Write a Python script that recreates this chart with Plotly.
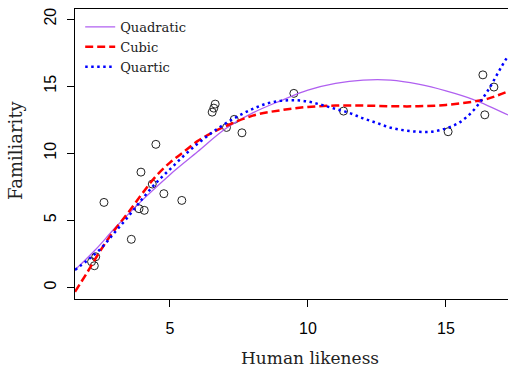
import plotly.graph_objects as go

# observed data points
obs_x = [2.16, 2.26, 2.31, 2.61, 3.60, 3.88, 3.95, 4.07, 4.36, 4.49, 4.78, 5.43,
         6.53, 6.59, 6.64, 7.05, 7.33, 7.61, 9.49, 11.29, 15.08, 16.34, 16.41, 16.74]
obs_y = [1.91, 1.61, 2.28, 6.33, 3.58, 5.86, 8.59, 5.74, 7.70, 10.66, 6.98, 6.48,
         13.06, 13.36, 13.66, 11.92, 12.52, 11.52, 14.46, 13.14, 11.60, 15.84, 12.86, 14.93]

# fitted curves
quad_x = [1.56, 2.3, 3.0, 4.0, 5.0, 6.0, 7.0, 8.0, 9.0, 10.0, 11.0, 12.0, 13.0, 14.0, 15.0, 16.0, 17.25]
quad_y = [1.3, 2.8, 4.4, 6.5, 8.4, 10.1, 11.8, 13.0, 13.9, 14.7, 15.2, 15.45, 15.45, 15.15, 14.65, 14.0, 12.85]

cub_x = [1.56, 2.0, 2.5, 3.0, 3.5, 4.0, 4.5, 5.0, 5.5, 6.0, 6.5, 7.0, 8.0, 9.0, 10.0, 11.0, 12.0, 13.0, 14.0, 15.0, 16.0, 16.5, 17.25]
cub_y = [-0.33, 1.1, 2.8, 4.3, 5.6, 7.0, 8.3, 9.3, 10.1, 10.9, 11.5, 12.0, 12.8, 13.2, 13.45, 13.55, 13.55, 13.5, 13.5, 13.6, 13.85, 14.05, 14.6]

quart_x = [1.56, 2.0, 2.5, 3.0, 3.5, 4.0, 4.5, 5.0, 5.5, 6.0, 6.5, 7.0, 7.5, 8.0, 8.5, 9.0, 9.5, 10.0, 10.5,
           11.0, 11.5, 12.0, 12.5, 13.0, 13.5, 14.0, 14.5, 15.0, 15.5, 16.0, 16.5, 17.0, 17.25]
quart_y = [1.3, 2.0, 2.9, 4.1, 5.3, 6.6, 7.8, 8.8, 9.8, 10.7, 11.5, 12.2, 12.8, 13.3, 13.7, 13.9, 13.95, 13.85, 13.6,
           13.3, 13.0, 12.6, 12.25, 11.9, 11.7, 11.6, 11.6, 11.85, 12.3, 13.2, 14.6, 16.4, 17.25]

x_ticks = [5, 10, 15]
y_ticks = [0, 5, 10, 15, 20]

fig = go.Figure()
fig.add_trace(go.Scatter(x=obs_x, y=obs_y, mode="markers", showlegend=False,
                         marker=dict(symbol="circle-open", size=8, color="#222222",
                                     line=dict(width=1, color="#222222"))))
fig.add_trace(go.Scatter(x=quad_x, y=quad_y, mode="lines", name="Quadratic",
                         line=dict(color="#B060F0", width=1.3, shape="spline")))
fig.add_trace(go.Scatter(x=cub_x, y=cub_y, mode="lines", name="Cubic",
                         line=dict(color="#FF0000", width=2.5, dash="8px,4px", shape="spline")))
fig.add_trace(go.Scatter(x=quart_x, y=quart_y, mode="lines", name="Quartic",
                         line=dict(color="#0000FF", width=2.5, dash="2.5px,3.5px", shape="spline")))

fig.update_layout(
    width=508, height=374,
    margin=dict(l=75, r=0, t=9, b=75, autoexpand=False),
    paper_bgcolor="white", plot_bgcolor="white",
    showlegend=True,
    legend=dict(x=0.012, y=0.99, xanchor="left", yanchor="top",
                bgcolor="rgba(0,0,0,0)", borderwidth=0,
                font=dict(family="DejaVu Serif", size=13, color="#222222"),
                tracegroupgap=0, itemwidth=30),
    xaxis=dict(range=[1.56, 17.25], tickvals=x_ticks, ticks="outside", ticklen=7,
               tickcolor="black", showline=True, linecolor="black", linewidth=1,
               mirror=True, showgrid=False, zeroline=False, automargin=False,
               ticklabelstandoff=8,
               tickfont=dict(family="Liberation Sans", size=16, color="black")),
    yaxis=dict(range=[-0.87, 20.75], tickvals=y_ticks, ticks="outside", ticklen=7,
               tickcolor="black", showline=True, linecolor="black", linewidth=1,
               mirror=False, showgrid=False, zeroline=False, tickangle=-90,
               automargin=False, ticklabelstandoff=5,
               tickfont=dict(family="Liberation Sans", size=16, color="black")),
    annotations=[
        dict(text="Human likeness", xref="paper", yref="paper", x=0.543, y=-0.2034,
             xanchor="center", yanchor="middle", showarrow=False,
             font=dict(family="DejaVu Serif", size=17, color="#222222")),
        dict(text="Familiarity", xref="paper", yref="paper", x=-0.136, y=0.514,
             xanchor="center", yanchor="middle", showarrow=False, textangle=-90,
             font=dict(family="DejaVu Serif", size=18, color="#222222")),
    ],
)

fig.write_html("out.html", config={"displayModeBar": False},
               post_script="document.body.style.margin='0';document.body.style.overflow='hidden';")
